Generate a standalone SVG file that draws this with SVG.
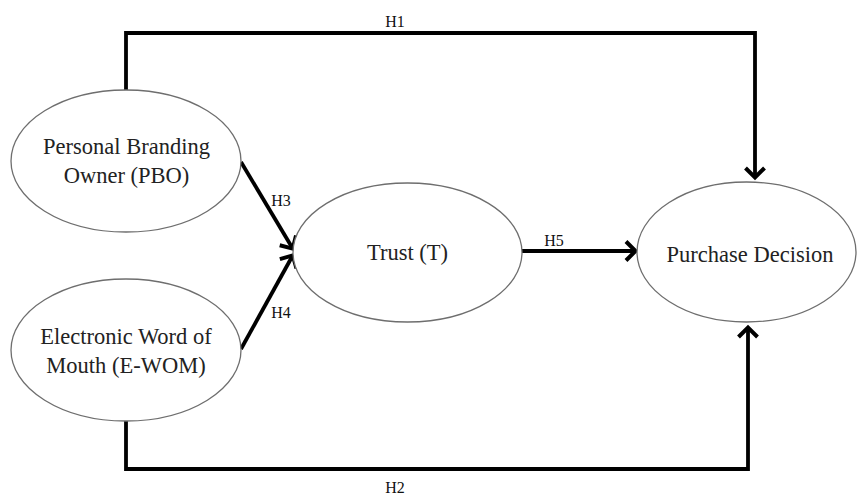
<svg xmlns="http://www.w3.org/2000/svg" width="857" height="497" viewBox="0 0 857 497">
  <style>
    .node ellipse { fill: #ffffff; stroke: #6e6e6e; stroke-width: 1.3; }
    .lbl { font-family: "Liberation Serif", "Times New Roman", serif; font-size: 22.5px; fill: #222222; text-anchor: middle; }
    .h { font-family: "Liberation Serif", "Times New Roman", serif; font-size: 16px; fill: #111111; text-anchor: middle; }
    .conn { fill: none; stroke: #000000; stroke-width: 3.8; stroke-linejoin: miter; }
  </style>
  <defs>
    <marker id="arrow" viewBox="0 0 16 24" refX="13" refY="12" markerWidth="16" markerHeight="24" markerUnits="userSpaceOnUse" orient="auto">
      <path d="M 3 2.5 L 12.5 12 L 3 21.5" fill="none" stroke="#000000" stroke-width="4" stroke-linejoin="miter"/>
    </marker>
  </defs>
  <rect width="857" height="497" fill="#ffffff"/>

  <g id="connectors">
    <path class="conn" d="M126 90 V33 H755 V178" marker-end="url(#arrow)"/>
    <path class="conn" d="M126 421 V469 H748 V327" marker-end="url(#arrow)"/>
    <path class="conn" d="M241 162 L293 249" marker-end="url(#arrow)"/>
    <path class="conn" d="M241 349 L293 255" marker-end="url(#arrow)"/>
    <path class="conn" d="M522 251 H636" marker-end="url(#arrow)"/>
    <text class="h" x="395" y="27">H1</text>
    <text class="h" x="395" y="493">H2</text>
    <text class="h" x="281" y="206">H3</text>
    <text class="h" x="281" y="318">H4</text>
    <text class="h" x="554" y="246">H5</text>
  </g>

  <g id="pbo" class="node">
    <ellipse cx="126" cy="161" rx="115" ry="71"/>
    <text class="lbl" x="126.5" y="154">Personal Branding</text>
    <text class="lbl" x="126.5" y="183">Owner (PBO)</text>
  </g>

  <g id="ewom" class="node">
    <ellipse cx="126" cy="350" rx="115" ry="71"/>
    <text class="lbl" x="126" y="344">Electronic Word of</text>
    <text class="lbl" x="126" y="373">Mouth (E-WOM)</text>
  </g>

  <g id="trust" class="node">
    <ellipse cx="407.5" cy="252.5" rx="114.5" ry="69.5"/>
    <text class="lbl" x="407.5" y="260">Trust (T)</text>
  </g>

  <g id="purchase" class="node">
    <ellipse cx="746.5" cy="252" rx="109.5" ry="70"/>
    <text class="lbl" x="750" y="262">Purchase Decision</text>
  </g>
</svg>
